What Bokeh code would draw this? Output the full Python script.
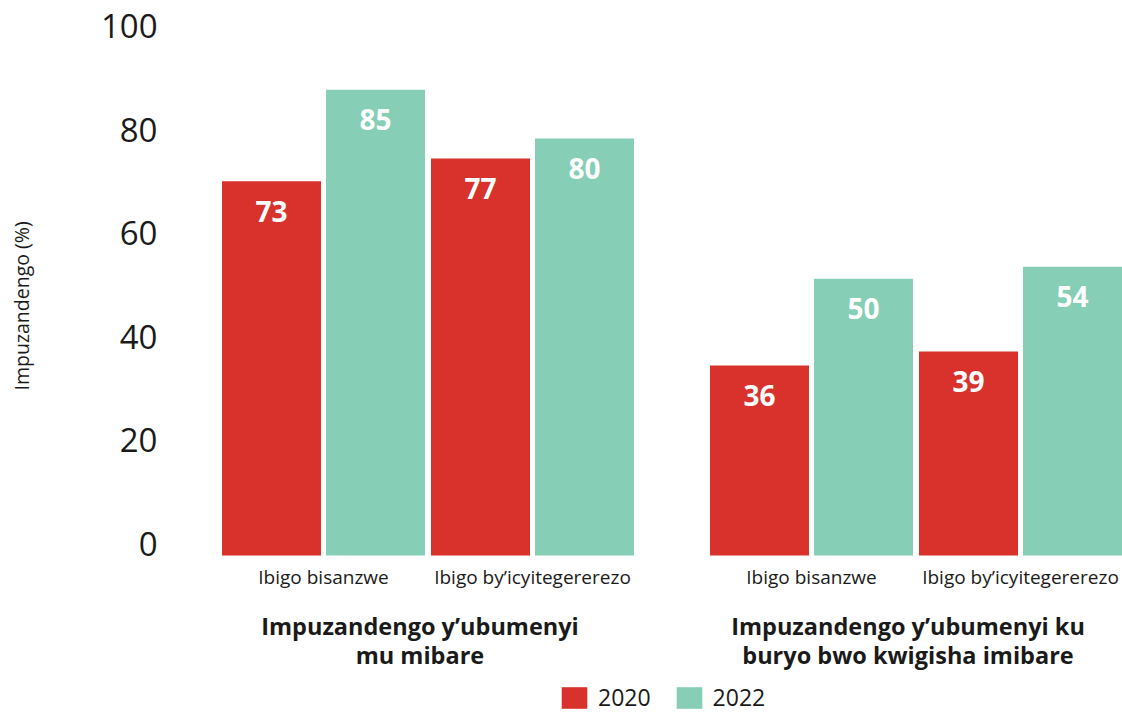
import math
from bokeh.plotting import figure
from bokeh.models import (FactorRange, Range1d, FixedTicker, ColumnDataSource,
                          Title, Legend, LegendItem, LinearAxis)
from bokeh.core.properties import value
from bokeh.embed import file_html
from bokeh.resources import INLINE

# ---------------- data ----------------
groups = ["Impuzandengo y’ubumenyi\nmu mibare",
          "Impuzandengo y’ubumenyi ku\nburyo bwo kwigisha imibare"]
subgroups = ["Ibigo bisanzwe", "Ibigo by’icyitegererezo"]
years = ["2020", "2022"]
# bar heights as drawn, in order group -> subgroup
bar_2020 = [72.3, 76.7, 36.7, 39.4]
bar_2022 = [90.0, 80.6, 53.5, 55.8]
# value labels printed in the bars
text_2020 = ["73", "77", "36", "39"]
text_2022 = ["85", "80", "50", "54"]
y_ticks = [0, 20, 40, 60, 80, 100]
y_title = "Impuzandengo (%)"

colors = {"2020": "#d9322c", "2022": "#86ceb5"}
FONT = value("Open Sans")
TXT = "#1a1a1a"

Y0, Y1 = -30.53, 107.25          # visible value range of the frame
LABEL_SHIFT = 2.32               # tick labels sit just above their value

pairs = [(g, s) for g in groups for s in subgroups]
factors = [(g, s, y) for (g, s) in pairs for y in years]

p = figure(
    x_range=FactorRange(*factors, factor_padding=0.04, subgroup_padding=0.05,
                        group_padding=0.75, range_padding=0),
    y_range=Range1d(Y0, Y1),
    width=1122, height=713,
    min_border_left=221, min_border_right=0, min_border_top=0, min_border_bottom=0,
    output_backend="svg", toolbar_location=None,
)
p.extra_y_ranges = {"lab": Range1d(Y0 - LABEL_SHIFT, Y1 - LABEL_SHIFT)}

renderers = {}
for yr, vals, txts in (("2020", bar_2020, text_2020), ("2022", bar_2022, text_2022)):
    src = ColumnDataSource(dict(
        x=[(g, s, yr) for (g, s) in pairs], top=vals, label=txts))
    renderers[yr] = p.vbar(x="x", top="top", bottom=0, width=0.99, source=src,
                           fill_color=colors[yr], line_color=None)
    p.text(x="x", y="top", text="label", source=src, y_offset=30,
           text_align="center", text_baseline="middle", text_color="white",
           text_font=FONT, text_font_style="bold", text_font_size="28px")

# subgroup labels
p.text(x=pairs, y=[0] * len(pairs), text=[s for (g, s) in pairs], y_offset=21,
       text_align="center", text_baseline="middle", text_color=TXT,
       text_font=FONT, text_font_size="19px")
# group labels
p.text(x=groups, y=[0] * len(groups), text=groups, y_offset=85, x_offset=-8,
       text_align="center", text_baseline="middle", text_color=TXT,
       text_font=FONT, text_font_style="bold", text_font_size="23.5px",
       text_line_height=0.9)

# axes / styling
p.xaxis.visible = False
p.yaxis.visible = False
p.xgrid.visible = False
p.ygrid.visible = False
p.outline_line_color = None

ax = LinearAxis(y_range_name="lab", ticker=FixedTicker(ticks=y_ticks))
ax.axis_line_color = None
ax.major_tick_line_color = None
ax.minor_tick_line_color = None
ax.major_label_standoff = 58
ax.major_label_text_font = "Open Sans"
ax.major_label_text_font_size = "33px"
ax.major_label_text_color = TXT
# blank axis label used only as spacing between tick labels and the title
ax.axis_label = " "
ax.axis_label_text_font_size = "10px"
ax.axis_label_standoff = 46
p.add_layout(ax, "left")

p.add_layout(Title(text=y_title, align="left", offset=323, standoff=5,
                   text_font="Open Sans", text_font_size="19.5px",
                   text_font_style="normal", text_color=TXT), "left")

legend = Legend(items=[LegendItem(label=yr, renderers=[renderers[yr]]) for yr in years],
                orientation="horizontal", location=(337, 0),
                glyph_width=32, glyph_height=27, label_standoff=8, spacing=22,
                padding=0, margin=0, border_line_color=None, background_fill_alpha=0,
                label_text_font="Open Sans", label_text_font_size="23px",
                label_text_color=TXT)
p.add_layout(legend)

open("out.html", "w").write(file_html(p, INLINE))
